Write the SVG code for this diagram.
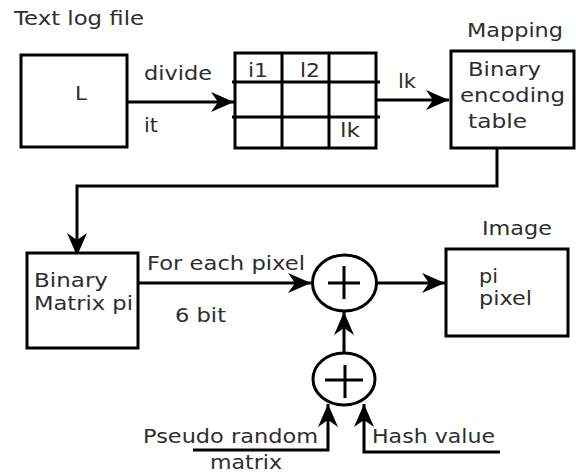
<svg xmlns="http://www.w3.org/2000/svg" width="576" height="475" viewBox="0 0 576 475">
<style>
.b{fill:#fff;stroke:#000;stroke-width:3}
.l{fill:none;stroke:#000;stroke-width:3}
.t{font-family:"DejaVu Sans",sans-serif;font-size:19.5px;fill:#2e2e2e}
</style>
<defs>
<marker id="ah" viewBox="-25 -11 27 22" refX="0" refY="0" markerWidth="27" markerHeight="22" markerUnits="userSpaceOnUse" orient="auto">
<path d="M0,0 L-23,-10 L-16,0 L-23,10 Z" fill="#000"/>
</marker>
</defs>
<rect width="576" height="475" fill="#fff"/>
<g id="connectors">
<path class="l" d="M128,102 H234" marker-end="url(#ah)"/>
<path class="l" d="M377,100 H449" marker-end="url(#ah)"/>
<path class="l" d="M497,148 V186 H77 V256" marker-end="url(#ah)"/>
<path class="l" d="M138,283 H311" marker-end="url(#ah)"/>
<path class="l" d="M377,283 H445" marker-end="url(#ah)"/>
<path class="l" d="M344,353 V312" marker-end="url(#ah)"/>
<path class="l" d="M193,450 H328 V404" marker-end="url(#ah)"/>
<path class="l" d="M500,452 H364 V404" marker-end="url(#ah)"/>
</g>
<g id="textlog">
<text class="t" x="14" y="25" textLength="130" lengthAdjust="spacingAndGlyphs">Text log file</text>
<rect class="b" x="21" y="55" width="106" height="92"/>
<text class="t" x="75" y="100" textLength="12" lengthAdjust="spacingAndGlyphs">L</text>
</g>
<g id="labels1">
<text class="t" x="144" y="80" textLength="68" lengthAdjust="spacingAndGlyphs">divide</text>
<text class="t" x="144" y="132" textLength="14" lengthAdjust="spacingAndGlyphs">it</text>
<text class="t" x="398" y="88" textLength="18" lengthAdjust="spacingAndGlyphs">lk</text>
</g>
<g id="grid">
<rect class="b" x="235" y="53" width="141" height="95"/>
<path class="l" d="M282,53 V148 M329,53 V148 M232,82 H380 M232,117 H380"/>
<text class="t" x="248" y="77" textLength="20" lengthAdjust="spacingAndGlyphs">i1</text>
<text class="t" x="300" y="77" textLength="20" lengthAdjust="spacingAndGlyphs">l2</text>
<text class="t" x="340" y="137" textLength="20" lengthAdjust="spacingAndGlyphs">lk</text>
</g>
<g id="mapping">
<text class="t" x="467" y="37" textLength="96" lengthAdjust="spacingAndGlyphs">Mapping</text>
<rect class="b" x="451" y="51" width="123" height="97"/>
<text class="t" x="468" y="76" textLength="73" lengthAdjust="spacingAndGlyphs">Binary</text>
<text class="t" x="460" y="102" textLength="105" lengthAdjust="spacingAndGlyphs">encoding</text>
<text class="t" x="468" y="128" textLength="59" lengthAdjust="spacingAndGlyphs">table</text>
</g>
<g id="matrix">
<rect class="b" x="27" y="253" width="111" height="95"/>
<text class="t" x="34" y="287" textLength="74" lengthAdjust="spacingAndGlyphs">Binary</text>
<text class="t" x="34" y="310" textLength="99" lengthAdjust="spacingAndGlyphs">Matrix pi</text>
</g>
<g id="labels2">
<text class="t" x="147" y="270" textLength="158" lengthAdjust="spacingAndGlyphs">For each pixel</text>
<text class="t" x="175" y="322" textLength="51" lengthAdjust="spacingAndGlyphs">6 bit</text>
</g>
<g id="xor1">
<ellipse class="b" cx="344.5" cy="283" rx="32" ry="28"/>
<path class="l" d="M328,283 H360 M344,266 V299"/>
</g>
<g id="image">
<text class="t" x="482" y="235" textLength="70" lengthAdjust="spacingAndGlyphs">Image</text>
<rect class="b" x="446" y="249" width="122" height="87"/>
<text class="t" x="479" y="283" textLength="19" lengthAdjust="spacingAndGlyphs">pi</text>
<text class="t" x="479" y="305" textLength="53" lengthAdjust="spacingAndGlyphs">pixel</text>
</g>
<g id="xor2">
<ellipse class="b" cx="344" cy="379" rx="31" ry="26"/>
<path class="l" d="M325,380 H363 M345,365 V398"/>
</g>
<g id="inputs">
<text class="t" x="143" y="443" textLength="175" lengthAdjust="spacingAndGlyphs">Pseudo random</text>
<text class="t" x="210" y="469" textLength="72" lengthAdjust="spacingAndGlyphs">matrix</text>
<text class="t" x="372" y="443" textLength="123" lengthAdjust="spacingAndGlyphs">Hash value</text>
</g>
</svg>
